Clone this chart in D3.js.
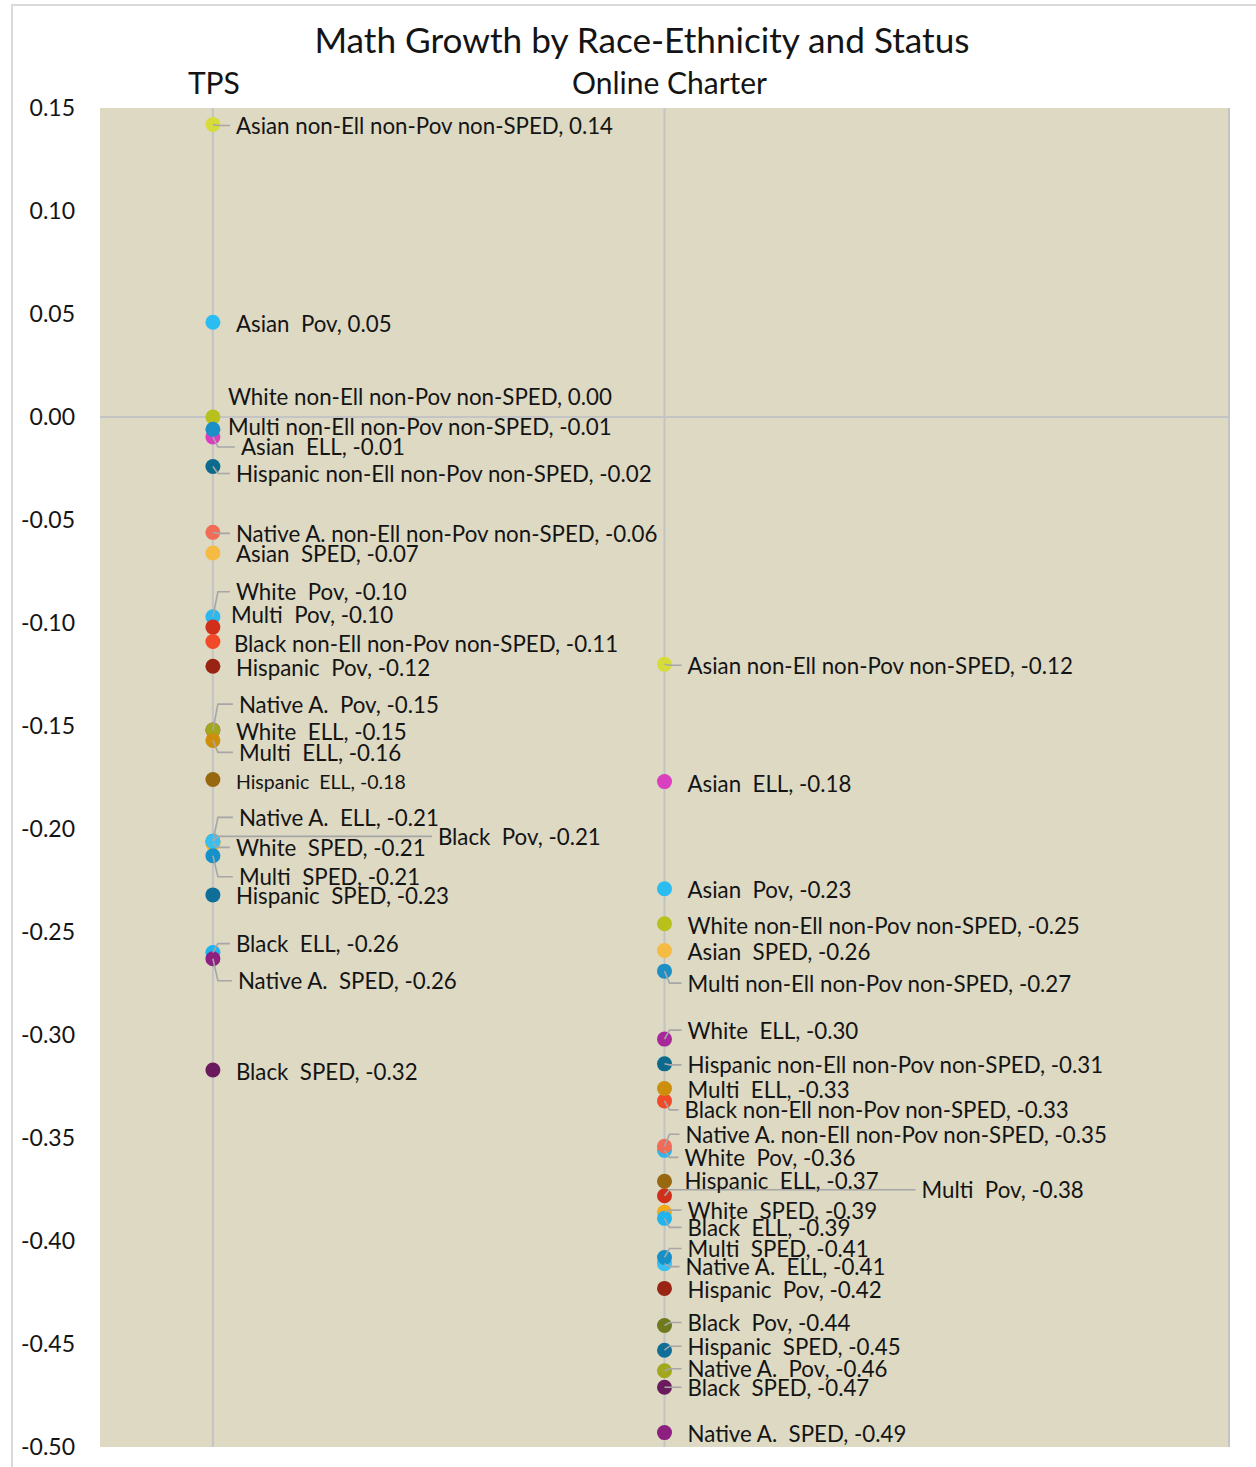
<!DOCTYPE html>
<html><head><meta charset="utf-8">
<script src="https://cdn.jsdelivr.net/npm/d3@7"></script>
<style>
html,body{margin:0;padding:0;background:#fff;}
svg text{font-family:Lato, "Noto Sans", sans-serif; fill:#141414; white-space:pre;}
</style></head>
<body>
<svg id="chart" width="1256" height="1467"></svg>
<script>
// ---------- data ----------
const title = "Math Growth by Race-Ethnicity and Status";
const groups = ["TPS", "Online Charter"];
const groupX = [1, 5];
const series = [
  "Asian non-Ell non-Pov non-SPED", "Asian  Pov", "White non-Ell non-Pov non-SPED", "Asian  ELL",
  "Multi non-Ell non-Pov non-SPED", "Hispanic non-Ell non-Pov non-SPED", "White  Pov", "Native A. non-Ell non-Pov non-SPED",
  "Asian  SPED", "Multi  Pov", "Black non-Ell non-Pov non-SPED", "Hispanic  Pov",
  "White  ELL", "Native A.  Pov", "Multi  ELL", "Hispanic  ELL",
  "Black  Pov", "White  SPED", "Native A.  ELL", "Multi  SPED",
  "Hispanic  SPED", "Black  ELL", "Native A.  SPED", "Black  SPED"
];
const colors = [
  "#d6dc3a", "#2bbcf2", "#b8c11c", "#d93fbf",
  "#1b8fc6", "#0c6a8c", "#2ab8ee", "#f06b58",
  "#f5bb42", "#d0301a", "#f04a28", "#9a2414",
  "#a8289c", "#a2a81e", "#cc8e0c", "#976810",
  "#6e7a1b", "#f5aa18", "#35bff3", "#1690c9",
  "#106f98", "#1fb4ef", "#8d1f80", "#6a1a5d"
];
const tpsValues = [
  0.142, 0.046, 0.000, -0.0097,
  -0.006, -0.024, -0.097, -0.056,
  -0.066, -0.102, -0.109, -0.121,
  -0.152, -0.152, -0.157, -0.176,
  -0.206, -0.207, -0.206, -0.213,
  -0.232, -0.260, -0.263, -0.317
];
const charterValues = [
  -0.120, -0.229, -0.246, -0.177,
  -0.269, -0.314, -0.356, -0.354,
  -0.259, -0.378, -0.332, -0.423,
  -0.302, -0.463, -0.326, -0.371,
  -0.441, -0.386, -0.411, -0.408,
  -0.453, -0.389, -0.493, -0.471
];
const yTicks = [0.15, 0.10, 0.05, 0.00, -0.05, -0.10, -0.15, -0.20, -0.25, -0.30, -0.35, -0.40, -0.45, -0.50];

// ---------- label layout (pixel nudges: dx, dy, leader line) ----------
const tpsLabelLayout = [
  [23, 1, 1], [23, 1, 0], [15, -21, 0], [28, 10, 1],
  [15, -3, 0], [23, 7, 1], [23, -25, 1], [23, 1, 1],
  [23, 1, 0], [18, -13, 0], [21, 2, 0], [23, 1, 0],
  [23, 1, 0], [26, -26, 1], [26, 12, 1], [23, 2, 0],
  [225, -5, 1], [23, 4, 1], [26, -24, 1], [26, 21, 1],
  [23, 1, 0], [23, -9, 1], [25, 22, 1], [23, 1, 0]
];
const charterLabelLayout = [
  [23, 1, 1], [23, 1, 0], [23, 2, 0], [23, 2, 0],
  [23, 12, 1], [23, 1, 1], [20, 7, 1], [21, -12, 1],
  [23, 1, 0], [257, -6, 1], [20, 9, 1], [23, 1, 0],
  [23, -9, 1], [23, -2, 1], [23, 1, 0], [20, -1, 0],
  [23, -3, 1], [23, -2, 1], [21, 3, 1], [23, -9, 1],
  [23, -4, 1], [23, 9, 1], [23, 1, 0], [23, 0, 1]
];
const smallLabels = {"TPS|Hispanic  ELL": true};

// ---------- drawing ----------
const svg = d3.select("#chart");
const W = 1256, H = 1467;
const plot = {left: 100, right: 1229, top: 108, bottom: 1447};
const locale = d3.formatLocale({decimal: ".", thousands: ",", grouping: [3], currency: ["", ""], minus: "-"});
const fmt = locale.format(".2f");

// outer frame
svg.append("rect").attr("x", 12).attr("y", 5).attr("width", W).attr("height", H)
  .attr("fill", "none").attr("stroke", "#d9d9d9").attr("stroke-width", 2);

const x = d3.scaleLinear().domain([0, 10]).range([plot.left, plot.right]);
const y = d3.scaleLinear().domain([-0.5, 0.15]).range([plot.bottom, plot.top]);

// plot background
svg.append("rect").attr("x", plot.left).attr("y", plot.top)
  .attr("width", plot.right - plot.left).attr("height", plot.bottom - plot.top)
  .attr("fill", "#ddd9c3");

// gridlines
svg.append("line").attr("x1", plot.left).attr("x2", plot.right)
  .attr("y1", y(0)).attr("y2", y(0)).attr("stroke", "#c4c4c4").attr("stroke-width", 2);
[1, 5, 10].forEach(v => {
  svg.append("line").attr("x1", x(v)).attr("x2", x(v))
    .attr("y1", plot.top).attr("y2", plot.bottom)
    .attr("stroke", "#c4c4c4").attr("stroke-width", 2);
});

// y axis
const yAxis = d3.axisLeft(y).tickValues(yTicks).tickFormat(fmt).tickSize(0).tickPadding(0);
const yg = svg.append("g").attr("transform", "translate(75,0)").call(yAxis);
yg.select(".domain").remove();
yg.selectAll("text").attr("font-size", 23).attr("font-family", "Lato, sans-serif").attr("fill", "#141414");

// title and headers
svg.append("text").attr("x", 642).attr("y", 39).attr("text-anchor", "middle")
  .attr("dominant-baseline", "central").attr("font-size", 35.2).text(title);
groups.forEach((g, i) => {
  svg.append("text").attr("x", x(groupX[i]) + (i === 0 ? 1 : 5)).attr("y", 82)
    .attr("text-anchor", "middle").attr("dominant-baseline", "central")
    .attr("font-size", 30).text(g);
});

// points
const pts = [];
[tpsValues, charterValues].forEach((vals, gi) => {
  const layout = gi === 0 ? tpsLabelLayout : charterLabelLayout;
  series.forEach((s, i) => {
    pts.push({group: groups[gi], gx: groupX[gi], name: s, value: vals[i], color: colors[i], lay: layout[i]});
  });
});

const dotsG = svg.append("g");
dotsG.selectAll("circle").data(pts).join("circle")
  .attr("cx", d => x(d.gx)).attr("cy", d => y(d.value)).attr("r", 7.5)
  .attr("fill", d => d.color);

// leader lines
const leadG = svg.append("g");
pts.filter(d => d.lay[2]).forEach(d => {
  const px = x(d.gx), py = y(d.value);
  const lx = px + d.lay[0], ly = py + d.lay[1];
  const path = d3.path();
  path.moveTo(px, py);
  path.lineTo(px + 5, ly);
  path.lineTo(lx - 6, ly);
  leadG.append("path").attr("d", path.toString()).attr("fill", "none")
    .attr("stroke", "#a6a6a6").attr("stroke-width", 1.6);
});

// labels
svg.append("g").selectAll("text").data(pts).join("text")
  .attr("x", d => x(d.gx) + d.lay[0])
  .attr("y", d => y(d.value) + d.lay[1])
  .attr("dominant-baseline", "central")
  .attr("font-size", d => smallLabels[d.group + "|" + d.name] ? 19.5 : 22.3)
  .text(d => d.name + ", " + fmt(d.value));
</script>
</body></html>
